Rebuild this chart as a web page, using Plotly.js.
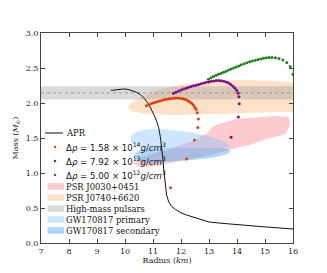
<!DOCTYPE html>
<html><head><meta charset="utf-8">
<script src="https://cdn.plot.ly/plotly-3.0.1.min.js"></script>
<style>html,body{margin:0;padding:0;background:#fff}#chart{width:327px;height:273px}</style>
</head><body><div id="chart"></div>
<script>
// APR equation of state
const aprR = [9.5, 9.65, 9.8, 9.95, 10.1, 10.25, 10.4, 10.55, 10.7, 10.85, 10.95, 11.05, 11.13, 11.2, 11.26, 11.31, 11.35, 11.38, 11.41, 11.44, 11.48, 11.55, 11.65, 11.8, 12.0, 12.2, 12.6, 13.0, 13.5, 14.0, 15.0, 16.0];
const aprM = [2.18, 2.19, 2.197, 2.2, 2.195, 2.18, 2.155, 2.12, 2.06, 1.98, 1.91, 1.82, 1.74, 1.65, 1.52, 1.38, 1.22, 1.07, 0.93, 0.8, 0.7, 0.6, 0.53, 0.48, 0.43, 0.4, 0.35, 0.3, 0.28, 0.26, 0.23, 0.2];
// Δρ = 1.58e14
const d1R = [10.77, 10.85, 10.93, 11.01, 11.09, 11.17, 11.25, 11.33, 11.41, 11.49, 11.57, 11.65, 11.73, 11.81, 11.89, 11.97, 12.05, 12.12, 12.19, 12.26, 12.32, 12.38, 12.44, 12.49, 12.54, 12.58, 12.62, 12.6, 12.48, 12.2, 11.63];
const d1M = [1.96, 1.975, 1.99, 2.0, 2.01, 2.02, 2.03, 2.04, 2.05, 2.055, 2.06, 2.065, 2.068, 2.07, 2.07, 2.068, 2.063, 2.055, 2.045, 2.03, 2.015, 1.995, 1.97, 1.94, 1.91, 1.86, 1.77, 1.65, 1.47, 1.2, 0.79];
// Δρ = 7.92e13
const d2R = [11.73, 11.82, 11.91, 12.0, 12.09, 12.18, 12.27, 12.36, 12.45, 12.54, 12.63, 12.72, 12.81, 12.9, 12.99, 13.08, 13.17, 13.26, 13.35, 13.44, 13.53, 13.62, 13.7, 13.78, 13.86, 13.93, 13.99, 14.04, 14.07, 14.08, 14.05, 13.79];
const d2M = [2.14, 2.155, 2.17, 2.185, 2.2, 2.21, 2.225, 2.235, 2.245, 2.255, 2.265, 2.275, 2.285, 2.295, 2.3, 2.31, 2.315, 2.32, 2.32, 2.318, 2.31, 2.3, 2.285, 2.265, 2.24, 2.21, 2.18, 2.14, 2.09, 1.99, 1.8, 1.51];
// Δρ = 5.00e12
const d3R = [12.98, 13.07, 13.16, 13.25, 13.34, 13.43, 13.52, 13.61, 13.7, 13.79, 13.88, 13.97, 14.06, 14.15, 14.25, 14.35, 14.45, 14.55, 14.65, 14.75, 14.85, 14.95, 15.05, 15.15, 15.25, 15.37, 15.5, 15.64, 15.78, 15.9, 16.0];
const d3M = [2.34, 2.36, 2.38, 2.395, 2.41, 2.425, 2.44, 2.455, 2.47, 2.485, 2.5, 2.515, 2.53, 2.545, 2.56, 2.575, 2.59, 2.6, 2.61, 2.62, 2.63, 2.64, 2.645, 2.65, 2.65, 2.645, 2.635, 2.615, 2.58, 2.52, 2.41];
// Observational constraints (region outlines)
const j0030R = [10.3, 10.55, 11.0, 11.5, 12.0, 12.5, 12.9, 13.15, 13.5, 14.0, 14.5, 15.0, 15.4, 15.85, 15.9, 15.85, 15.8, 15.75, 15.5, 15.18, 14.8, 14.46, 14.0, 13.63, 13.2, 12.7, 12.2, 11.7, 11.2, 10.8, 10.5];
const j0030M = [1.14, 1.22, 1.28, 1.33, 1.4, 1.47, 1.56, 1.67, 1.72, 1.77, 1.79, 1.8, 1.815, 1.8, 1.72, 1.65, 1.6, 1.56, 1.53, 1.5, 1.45, 1.4, 1.36, 1.32, 1.27, 1.23, 1.19, 1.15, 1.11, 1.08, 1.09];
const j0740R = [10.1, 10.2, 10.4, 10.65, 10.9, 11.2, 11.6, 12.0, 12.5, 13.0, 13.4, 14.0, 15.0, 16.5, 16.5, 15.0, 14.0, 13.0, 12.0, 11.6, 11.2, 10.65, 10.3];
const j0740M = [1.92, 1.99, 2.05, 2.1, 2.14, 2.19, 2.23, 2.26, 2.28, 2.3, 2.31, 2.33, 2.32, 2.28, 1.88, 1.86, 1.85, 1.84, 1.83, 1.83, 1.835, 1.85, 1.88];
const hmR = [7, 16, 16, 7];
const hmM = [2.05, 2.05, 2.24, 2.24];
const hmMeanR = [7, 16];
const hmMeanM = [2.145, 2.145];
const gw1R = [10.2, 10.3, 10.6, 11.0, 11.5, 12.0, 12.5, 13.0, 13.4, 13.65, 13.72, 13.6, 12.5, 11.5, 10.6, 10.35, 10.2];
const gw1M = [1.5, 1.57, 1.61, 1.63, 1.62, 1.6, 1.57, 1.52, 1.47, 1.42, 1.38, 1.365, 1.365, 1.365, 1.365, 1.4, 1.45];
const gw2R = [10.3, 10.45, 10.7, 11.0, 12.0, 13.0, 13.5, 13.75, 13.7, 13.4, 13.0, 12.5, 12.0, 11.5, 11.0, 10.6, 10.35];
const gw2M = [1.25, 1.31, 1.35, 1.365, 1.365, 1.365, 1.36, 1.33, 1.28, 1.24, 1.21, 1.19, 1.18, 1.16, 1.14, 1.15, 1.19];
const legendLabels = ['APR',
  '\u0394<i>\u03c1</i> = 1.58 \u00d7 10<sup>14</sup><i>g</i>/<i>cm</i><sup>3</sup>',
  '\u0394<i>\u03c1</i> = 7.92 \u00d7 10<sup>13</sup><i>g</i>/<i>cm</i><sup>3</sup>',
  '\u0394<i>\u03c1</i> = 5.00 \u00d7 10<sup>12</sup><i>g</i>/<i>cm</i><sup>3</sup>',
  'PSR J0030+0451', 'PSR J0740+6620', 'High-mass pulsars', 'GW170817 primary', 'GW170817 secondary'];

const C = {
  pink: 'rgba(250,160,170,0.55)', peach: 'rgba(250,180,120,0.4)', grey: 'rgba(150,150,150,0.35)',
  gw1: 'rgba(130,190,250,0.4)', gw2: 'rgba(70,170,245,0.45)',
  red: '#d9420b', purple: '#7a0f80', green: '#1f7f1f'
};
function region(x, y, c) { return {x: x, y: y, type: 'scatter', mode: 'lines', fill: 'toself', fillcolor: c, line: {width: 0}, hoverinfo: 'skip', showlegend: false}; }
function dots(x, y, c) { return {x: x, y: y, type: 'scatter', mode: 'markers', marker: {size: 3, color: c}, showlegend: false, cliponaxis: true}; }

const traces = [
  region(j0030R, j0030M, C.pink),
  region(j0740R, j0740M, C.peach),
  region(hmR, hmM, C.grey),
  {x: hmMeanR, y: hmMeanM, type: 'scatter', mode: 'lines', line: {color: '#8a8a8a', width: 0.8, dash: 'dot'}, showlegend: false},
  region(gw1R, gw1M, C.gw1),
  region(gw2R, gw2M, C.gw2),
  {x: aprR, y: aprM, type: 'scatter', mode: 'lines', line: {color: '#111', width: 1}, showlegend: false},
  dots(d1R, d1M, C.red),
  dots(d2R, d2M, C.purple),
  dots(d3R, d3M, C.green)
];

// custom compact legend (paper coords)
const L = 41, W = 252, B = 243, H = 210;
const px = v => (v - L) / W, py = v => (B - v) / H;
const rowY = [133, 147, 161, 175, 186.5, 197.5, 208.5, 219.5, 230.5];
const swatch = [null, C.red, C.purple, C.green, C.pink, C.peach, C.grey, C.gw1, C.gw2];
const shapes = [], annotations = [];
rowY.forEach((yy, i) => {
  if (i === 0) {
    shapes.push({type: 'line', xref: 'paper', yref: 'paper', x0: px(45), x1: px(63), y0: py(yy), y1: py(yy), line: {color: '#333', width: 1.2}});
  } else if (i <= 3) {
    shapes.push({type: 'circle', xref: 'paper', yref: 'paper', x0: px(53.8), x1: px(56.2), y0: py(yy + 1.2), y1: py(yy - 1.2), fillcolor: swatch[i], line: {width: 0}});
  } else {
    shapes.push({type: 'rect', xref: 'paper', yref: 'paper', x0: px(47.5), x1: px(64), y0: py(yy + 3.3), y1: py(yy - 3.3), fillcolor: swatch[i], line: {width: 0}});
  }
  annotations.push({xref: 'paper', yref: 'paper', x: px(64), y: py(yy), xanchor: 'left', yanchor: 'middle', showarrow: false,
    text: legendLabels[i],
    font: {family: (i >= 1 && i <= 3) ? 'DejaVu Sans' : 'DejaVu Serif', size: (i >= 1 && i <= 3) ? 8.6 : 8.4, color: '#111'}});
});

const axisCommon = {showgrid: false, zeroline: false, showline: true, linecolor: '#444', linewidth: 1,
  mirror: 'allticks', ticks: 'inside', ticklen: 4, tickcolor: '#444', tickwidth: 1,
  tickfont: {family: 'DejaVu Serif', size: 8, color: '#222'}};
const layout = {
  width: 327, height: 273, margin: {l: 41, r: 34, t: 33, b: 30},
  paper_bgcolor: '#fff', plot_bgcolor: '#fff', showlegend: false,
  xaxis: Object.assign({}, axisCommon, {range: [7, 16], dtick: 1, tick0: 7,
    title: {text: 'Radius (<i>km</i>)', font: {family: 'DejaVu Serif', size: 8, color: '#222'}, standoff: 2}}),
  yaxis: Object.assign({}, axisCommon, {range: [0, 3], dtick: 0.5, tick0: 0, tickformat: '.1f',
    title: {text: 'Mass (<i>M</i><sub>\u2299</sub>)', font: {family: 'DejaVu Serif', size: 8, color: '#222'}, standoff: 5}}),
  shapes: shapes, annotations: annotations
};
Plotly.newPlot('chart', traces, layout, {displayModeBar: false, staticPlot: true});
</script></body></html>
